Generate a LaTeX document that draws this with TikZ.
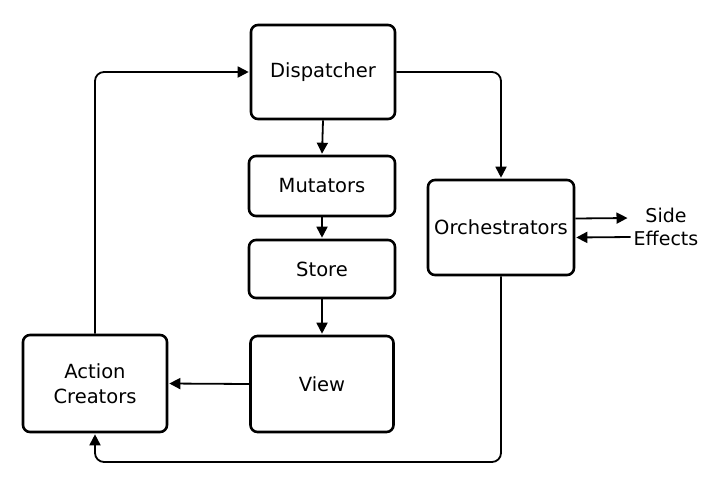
\documentclass[tikz,border=0pt]{standalone}
\usepackage{fontspec}
\setmainfont{DejaVu Sans}
\usetikzlibrary{arrows.meta}
\begin{document}
\begin{tikzpicture}[x=1pt,y=-1pt,
  lbl/.style={font=\fontsize{19.5}{25}\selectfont},
  box/.style={lbl, draw, line width=2.6pt, rounded corners=7pt, inner sep=0pt, align=center, fill=white},
  conn/.style={line width=1.8pt, rounded corners=9pt, -{Triangle[length=11pt,width=11pt]}, shorten >=1pt},
]
\useasboundingbox[fill=white] (0,0) rectangle (728,485);
\node[box, minimum width=144pt, minimum height=94pt] (disp) at (323,72) {Dispatcher};
\node[box, minimum width=146pt, minimum height=60pt] (mut) at (322,186) {Mutators};
\node[box, minimum width=146pt, minimum height=58pt] (store) at (322,269) {Store};
\node[box, minimum width=143pt, minimum height=96pt] (view) at (322,384) {View};
\node[box, minimum width=144pt, minimum height=97pt] (ac) at (95,383.5) {Action\\Creators};
\node[box, minimum width=146pt, minimum height=95pt] (orch) at (501,227.5) {Orchestrators};
\node[lbl, font=\fontsize{19}{23}\selectfont, align=center, inner sep=1pt] (side) at (666,227) {Side\\Effects};
\coordinate (bot) at (0,462);

\draw[conn] (disp.south) -- (mut.north);
\draw[conn] (mut.south) -- (store.north);
\draw[conn] (store.south) -- (view.north);
\draw[conn] (view.west) -- (ac.east);
\draw[conn] (ac.north) |- (disp.west);
\draw[conn] (disp.east) -| (orch.north);
\draw[conn] (orch.south) -- (orch.south |- bot) -| (ac.south);
\draw[conn] ([yshift=9pt]orch.east) -- ([yshift=9pt,xshift=-4pt]side.west);
\draw[conn] ([yshift=-10pt,xshift=-2pt]side.west) -- ([yshift=-10pt]orch.east);
\end{tikzpicture}
\end{document}
